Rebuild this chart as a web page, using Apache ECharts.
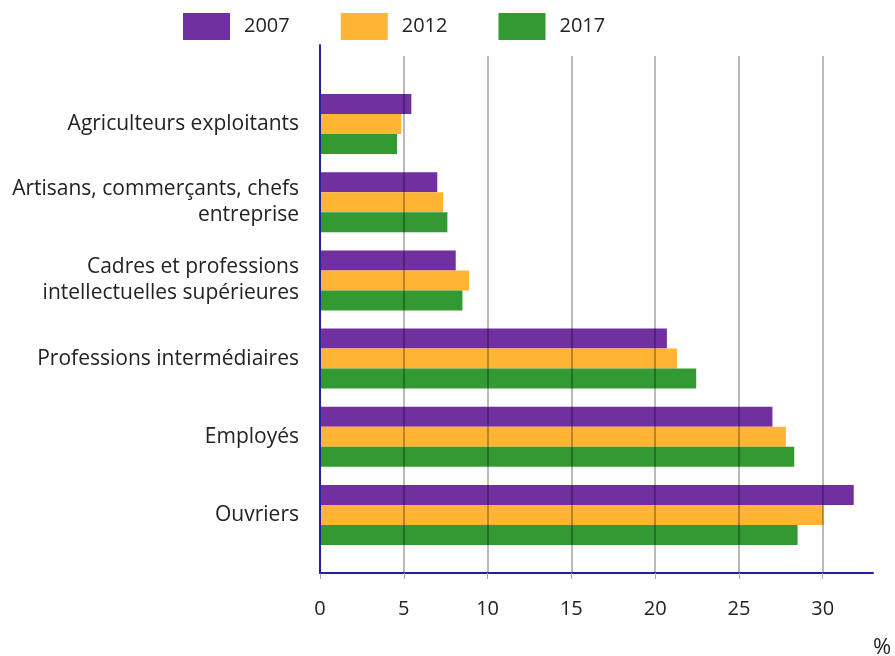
<!DOCTYPE html>
<html><head><meta charset="utf-8">
<script src="https://cdn.jsdelivr.net/npm/echarts@6/dist/echarts.min.js"></script>
<style>html,body{margin:0;padding:0;background:#fff}#c{width:895px;height:656px}</style>
</head><body><div id="c"></div>
<script>
const categories = ["Agriculteurs exploitants", "Artisans, commerçants, chefs\nentreprise", "Cadres et professions\nintellectuelles supérieures", "Professions intermédiaires", "Employés", "Ouvriers"];
const seriesNames = ["2007", "2012", "2017"];
const v2007 = [5.45, 7.0, 8.1, 20.7, 27.0, 31.85];
const v2012 = [4.85, 7.35, 8.9, 21.3, 27.8, 30.05];
const v2017 = [4.6, 7.6, 8.5, 22.45, 28.3, 28.5];
const xTicks = [0, 5, 10, 15, 20, 25, 30];
const colors = ["#7030A0", "#FFB433", "#339933"];
const font = "'Open Sans', 'Noto Sans', sans-serif";
const navy = "#2222a0";

const chart = echarts.init(document.getElementById('c'), null, {renderer: 'canvas'});
const values = [v2007, v2012, v2017];
chart.setOption({
  animation: false,
  textStyle: {fontFamily: font},
  legend: {
    left: 178, top: 8, itemWidth: 47, itemHeight: 27, itemGap: 51, icon: 'rect',
    textStyle: {fontSize: 20, color: '#222', fontFamily: font, padding: [0, 0, 0, 9]},
    data: seriesNames
  },
  title: {text: '%', left: 868, top: 632, textStyle: {fontSize: 22, fontWeight: 'normal', color: '#222', fontFamily: font}},
  grid: [
    {left: 320, right: 22, top: 85, bottom: 102},
    {left: 320, right: 22, top: 56, bottom: 83},
    {left: 320, right: 22, top: 45, bottom: 83}
  ],
  xAxis: [
    {gridIndex: 0, type: 'value', min: 0, max: 33, show: false},
    {gridIndex: 1, type: 'value', min: 0, max: 33, interval: 5, z: 5,
      axisLine: {show: true, lineStyle: {color: navy, width: 2}},
      axisTick: {show: true, length: 6, customValues: xTicks, lineStyle: {color: '#aaa', width: 1}},
      axisLabel: {fontSize: 20, color: '#222', margin: 26, fontFamily: font, customValues: xTicks},
      splitLine: {show: true, lineStyle: {color: 'rgba(0,0,0,0.27)', width: 2}}
    },
    {gridIndex: 2, type: 'value', min: 0, max: 33, show: false}
  ],
  yAxis: [
    {gridIndex: 0, type: 'category', inverse: true, data: categories,
      axisLine: {show: false}, axisTick: {show: false},
      axisLabel: {fontSize: 21, color: '#222', margin: 21, lineHeight: 26, align: 'right', fontFamily: font}
    },
    {gridIndex: 1, type: 'value', show: false},
    {gridIndex: 2, type: 'value', min: 0, max: 1, z: 6,
      axisLine: {show: true, lineStyle: {color: navy, width: 2}},
      axisTick: {show: false}, axisLabel: {show: false}, splitLine: {show: false}}
  ],
  series: seriesNames.map((n, i) => ({
    name: n, type: 'bar', xAxisIndex: 0, yAxisIndex: 0,
    data: values[i], barWidth: 20, barGap: '0%',
    itemStyle: {color: colors[i]}
  }))
});
</script></body></html>
